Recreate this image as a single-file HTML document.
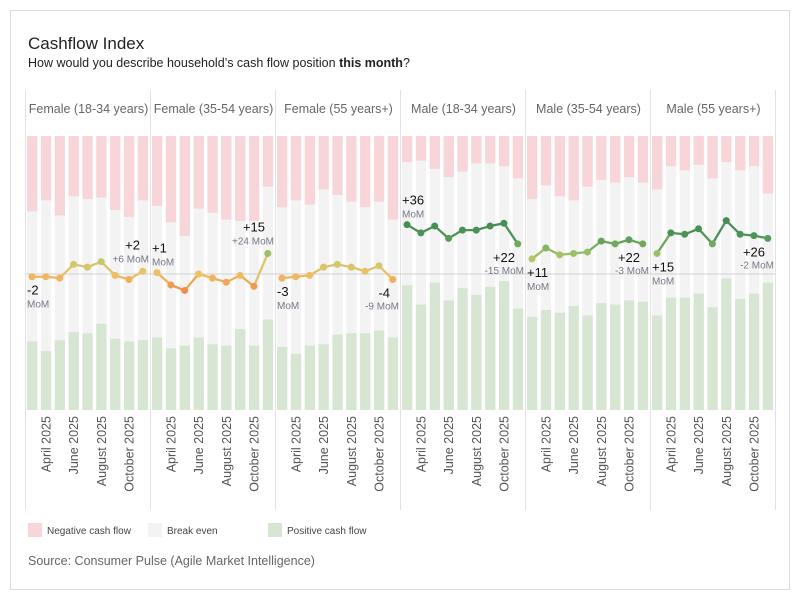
<!DOCTYPE html>
<html><head><meta charset="utf-8">
<style>
body{margin:0;background:#fff;font-family:"Liberation Sans",sans-serif;}
#wrap{position:relative;width:800px;height:600px;overflow:hidden;}
</style></head>
<body>
<div id="wrap">
<svg id="chart" width="800" height="600" xmlns="http://www.w3.org/2000/svg">
<rect x="10.5" y="10.5" width="779" height="579" fill="#fff" stroke="#ddd"/>
<text x="28" y="49" font-size="17" fill="#222">Cashflow Index</text>
<text x="28" y="67" font-size="12.5" fill="#222">How would you describe household’s cash flow position <tspan font-weight="bold">this month</tspan>?</text>
<g id="panels"></g>
<g>
<rect x="28" y="523" width="14" height="14" fill="#f8d5d8"/>
<text x="47" y="534" font-size="10" fill="#444">Negative cash flow</text>
<rect x="148" y="523" width="14" height="14" fill="#f3f3f3"/>
<text x="167" y="534" font-size="10" fill="#444">Break even</text>
<rect x="268" y="523" width="14" height="14" fill="#d6e6d3"/>
<text x="287" y="534" font-size="10" fill="#444">Positive cash flow</text>
</g>
<text x="28" y="565" font-size="12.5" fill="#666">Source: Consumer Pulse (Agile Market Intelligence)</text>
</svg>
</div>
<script>
const panelNames=["Female (18-34 years)","Female (35-54 years)","Female (55 years+)","Male (18-34 years)","Male (35-54 years)","Male (55 years+)"];
const months=["March 2025","April 2025","May 2025","June 2025","July 2025","August 2025","September 2025","October 2025","November 2025"];
const tickLabels=["","April 2025","","June 2025","","August 2025","","October 2025",""];
const negativeShare=[
[55,47,58,44,46,45,54,59,47],
[51,63,73,53,56,61,62,62,37],
[52,47,50,39,43,48,52,48,61],
[19,18,24,30,26,20,20,22,31],
[46,36,44,47,37,32,34,30,34],
[39,22,25,21,31,19,25,22,42]];
const positiveShare=[
[50,43,51,57,56,63,52,50,51],
[53,45,47,53,48,47,59,47,66],
[46,41,47,48,55,56,56,58,53],
[91,77,93,80,89,84,90,94,74],
[68,73,71,76,69,78,77,80,79],
[69,82,82,85,75,96,81,85,93]];
const indexValues=[
[-2,-2,-3,7,5,9,-1,-4,2],
[1,-8,-12,0,-3,-6,-1,-9,15],
[-3,-2,-1,5,7,5,2,6,-4],
[36,30,35,26,32,32,35,37,22],
[11,19,14,15,16,24,22,25,22],
[15,30,29,33,22,39,29,28,26]];
const momValues=[6,24,-9,-15,-3,-2];
const firstLabelSide=["b","a","b","a","b","b"];
const lastLabelSide=["a","a","b","b","b","b"];

const NS="http://www.w3.org/2000/svg";
const g=document.getElementById("panels");
const yTop=136,yBot=410,yZero=274,k=1.37,pw=125,x0=26;
function yV(v){return yZero-v*k;}
function xB(p,i){return x0+p*pw+1+i*13.85;}
function mk(t,a,parent){const e=document.createElementNS(NS,t);for(const n in a)e.setAttribute(n,a[n]);(parent||g).appendChild(e);return e;}
function col(v){
  const stops=[[-12,[238,140,75]],[0,[240,192,100]],[8,[205,200,110]],[16,[150,190,100]],[28,[78,148,88]],[40,[70,138,82]]];
  if(v<=stops[0][0])return "rgb("+stops[0][1]+")";
  for(let i=1;i<stops.length;i++){if(v<=stops[i][0]){const a=stops[i-1],b=stops[i],t=(v-a[0])/(b[0]-a[0]);return "rgb("+a[1].map((c,j)=>Math.round(c+(b[1][j]-c)*t)).join(",")+")";}}
  return "rgb("+stops[stops.length-1][1]+")";
}
function fmt(v){return (v>0?"+":"")+v;}
for(let p=0;p<6;p++){
  const px=x0+p*pw;
  let d=mk("line",{x1:px-0.5,y1:90,x2:px-0.5,y2:510,stroke:"#e2e2e2"});
  
  
  let h=mk("text",{x:px+pw/2,y:113,"font-size":"12.5",fill:"#666","text-anchor":"middle"});
  h.textContent=panelNames[p];
  
  
  for(let i=0;i<9;i++){
    const x=xB(p,i);
    let r=mk("rect",{x:x,y:yTop,width:10.3,height:yBot-yTop,fill:"#f3f3f3"});
    
    
    r=mk("rect",{x:x,y:yTop,width:10.3,height:negativeShare[p][i]*k,fill:"#f8d5d8"});
    
    
    const ph=positiveShare[p][i]*k;
    r=mk("rect",{x:x,y:yBot-ph,width:10.3,height:ph,fill:"#d6e6d3"});
    
    
    if(tickLabels[i]){
      const cx=x+5.5;
      let t=mk("text",{x:0,y:0,"font-size":"12.5",fill:"#555","text-anchor":"end",transform:"translate("+(cx+4)+",416) rotate(-90)"});
      t.textContent=tickLabels[i];
      
      
    }
  }
}
let z=mk("line",{x1:26,y1:yZero,x2:775,y2:yZero,stroke:"#d0d0d0"});


let rd=mk("line",{x1:775.5,y1:90,x2:775.5,y2:510,stroke:"#e2e2e2"});


for(let p=0;p<6;p++){
  const v=indexValues[p];
  for(let i=0;i<8;i++){
    let s=mk("line",{x1:xB(p,i)+5,y1:yV(v[i]),x2:xB(p,i+1)+5,y2:yV(v[i+1]),stroke:col((v[i]+v[i+1])/2),"stroke-width":"2.3","stroke-linecap":"round"});
    
    
  }
  for(let i=0;i<9;i++){
    let c=mk("circle",{cx:xB(p,i)+5,cy:yV(v[i]),r:3.5,fill:col(v[i])});
    
    
  }
  const fy=yV(v[0]);
  const fx=x0+p*pw+1;
  const fa=firstLabelSide[p]==="a";
  let t1=mk("text",{x:fx,y:fa?fy-20:fy+18,"font-size":"13",fill:"#111"});
  t1.textContent=fmt(v[0]);
  
  
  let m1=mk("text",{x:fx,y:fa?fy-7:fy+31,"font-size":"10",fill:"#778"});
  m1.textContent="MoM";
  
  
  const ly=yV(v[8]);
  const lx=x0+(p+1)*pw-2;
  const la=lastLabelSide[p]==="a";
  let t2=mk("text",{x:lx-9,y:la?ly-22:ly+18,"font-size":"13",fill:"#111","text-anchor":"end"});
  t2.textContent=fmt(v[8]);
  
  
  let m2=mk("text",{x:lx,y:la?ly-9:ly+30,"font-size":"10",fill:"#778","text-anchor":"end"});
  m2.textContent=fmt(momValues[p])+" MoM";
  
  
}
</script>
</body></html>
